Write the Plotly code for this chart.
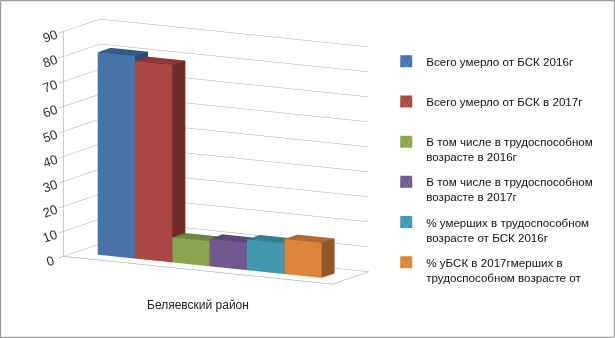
import plotly.graph_objects as go

category = "Беляевский район"
series_names = [
    "Всего умерло от БСК 2016г<br> ",
    "Всего умерло от БСК в 2017г<br> ",
    "В том числе в трудоспособном<br>возрасте в 2016г",
    "В том числе в трудоспособном<br>возрасте в 2017г",
    "% умерших в трудоспособном<br>возрасте от БСК 2016г",
    "% уБСК в 2017гмерших в<br>трудоспособном возрасте от",
]
values = [81, 79, 10, 11, 12.3, 14]
z_ticks = [0, 10, 20, 30, 40, 50, 60, 70, 80, 90]
x_range = [-0.6, 6.6]
y_range = [-0.9, 1.9]

front_colors = ["#4573AA", "#AA4644", "#89A54E", "#71588F", "#4198AF", "#DB843D"]
side_colors = ["#2E4D73", "#6E2B2A", "#5C6E34", "#4B3A60", "#2B6676", "#935628"]
top_colors = ["#38598A", "#8C3836", "#6F8640", "#5C4874", "#357C8E", "#B26A31"]

fig = go.Figure()
for i, (name, v) in enumerate(zip(series_names, values)):
    x0, x1 = i, i + 1
    y0, y1 = 0, 1
    xs = [x0, x1, x1, x0, x0, x1, x1, x0]
    ys = [y0, y0, y1, y1, y0, y0, y1, y1]
    zs = [0, 0, 0, 0, v, v, v, v]
    tri = [
        (0, 1, 5), (0, 5, 4),   # front
        (3, 2, 6), (3, 6, 7),   # back
        (0, 3, 7), (0, 7, 4),   # left
        (1, 2, 6), (1, 6, 5),   # right
        (0, 1, 2), (0, 2, 3),   # bottom
        (4, 5, 6), (4, 6, 7),   # top
    ]
    fc = [front_colors[i]] * 4 + [side_colors[i]] * 4 + [front_colors[i]] * 2 + [top_colors[i]] * 2
    fig.add_trace(go.Mesh3d(
        x=xs, y=ys, z=zs,
        i=[t[0] for t in tri], j=[t[1] for t in tri], k=[t[2] for t in tri],
        facecolor=fc, color=front_colors[i], flatshading=True,
        lighting=dict(ambient=1, diffuse=0, specular=0, fresnel=0, roughness=1),
        name=name, showlegend=True, legendgroup=f"g{i}", hoverinfo="skip",
    ))

axis_common = dict(showbackground=True, backgroundcolor="white", showspikes=False,
                   zeroline=False, title=dict(text=""))
fig.update_layout(
    width=615, height=338,
    margin=dict(l=0, r=0, t=0, b=0),
    paper_bgcolor="white",
    font=dict(family="Liberation Sans", size=12, color="#222"),
    scene=dict(
        domain=dict(x=[0.0, 0.69], y=[0.06, 1.0]),
        xaxis=dict(range=x_range, showticklabels=False,
                   showgrid=False, showline=True, linecolor="#999", ticks="",
                   **axis_common),
        yaxis=dict(range=y_range, showticklabels=False, showgrid=False, showline=True,
                   linecolor="#999", ticks="", **axis_common),
        zaxis=dict(range=[0, 90], tickvals=z_ticks, showgrid=True, gridcolor="#aaa", gridwidth=1,
                   showline=True, linecolor="#999", ticks="outside", tickcolor="#999", ticklen=4,
                   tickfont=dict(size=12.5, color="#333"), **axis_common),
        aspectmode="manual",
        aspectratio=dict(x=1.93, y=0.475, z=1.44),
        camera=dict(eye=dict(x=0.93, y=-1.74, z=0.33), center=dict(x=-0.03, y=0, z=-0.05),
                    up=dict(x=0, y=0, z=1), projection=dict(type="orthographic")),
        annotations=[dict(x=(len(values) - 1) / 2 + 0.5, y=y_range[0], z=0, text=category,
                          showarrow=False, yshift=-35,
                          font=dict(family="Liberation Sans", size=12, color="#222"))],
    ),
    legend=dict(x=0.628, y=0.86, xanchor="left", yanchor="top", tracegroupgap=7,
                itemwidth=30, valign="top",
                font=dict(family="Liberation Sans", size=11.6, color="#111"),
                bgcolor="rgba(0,0,0,0)"),
    shapes=[dict(type="rect", xref="paper", yref="paper", x0=0.001, y0=0.002, x1=0.999, y1=0.998,
                 line=dict(color="#888", width=1))],
)

fig.write_html("out.html", config={"displayModeBar": False},
               post_script="document.body.style.margin='0';")
